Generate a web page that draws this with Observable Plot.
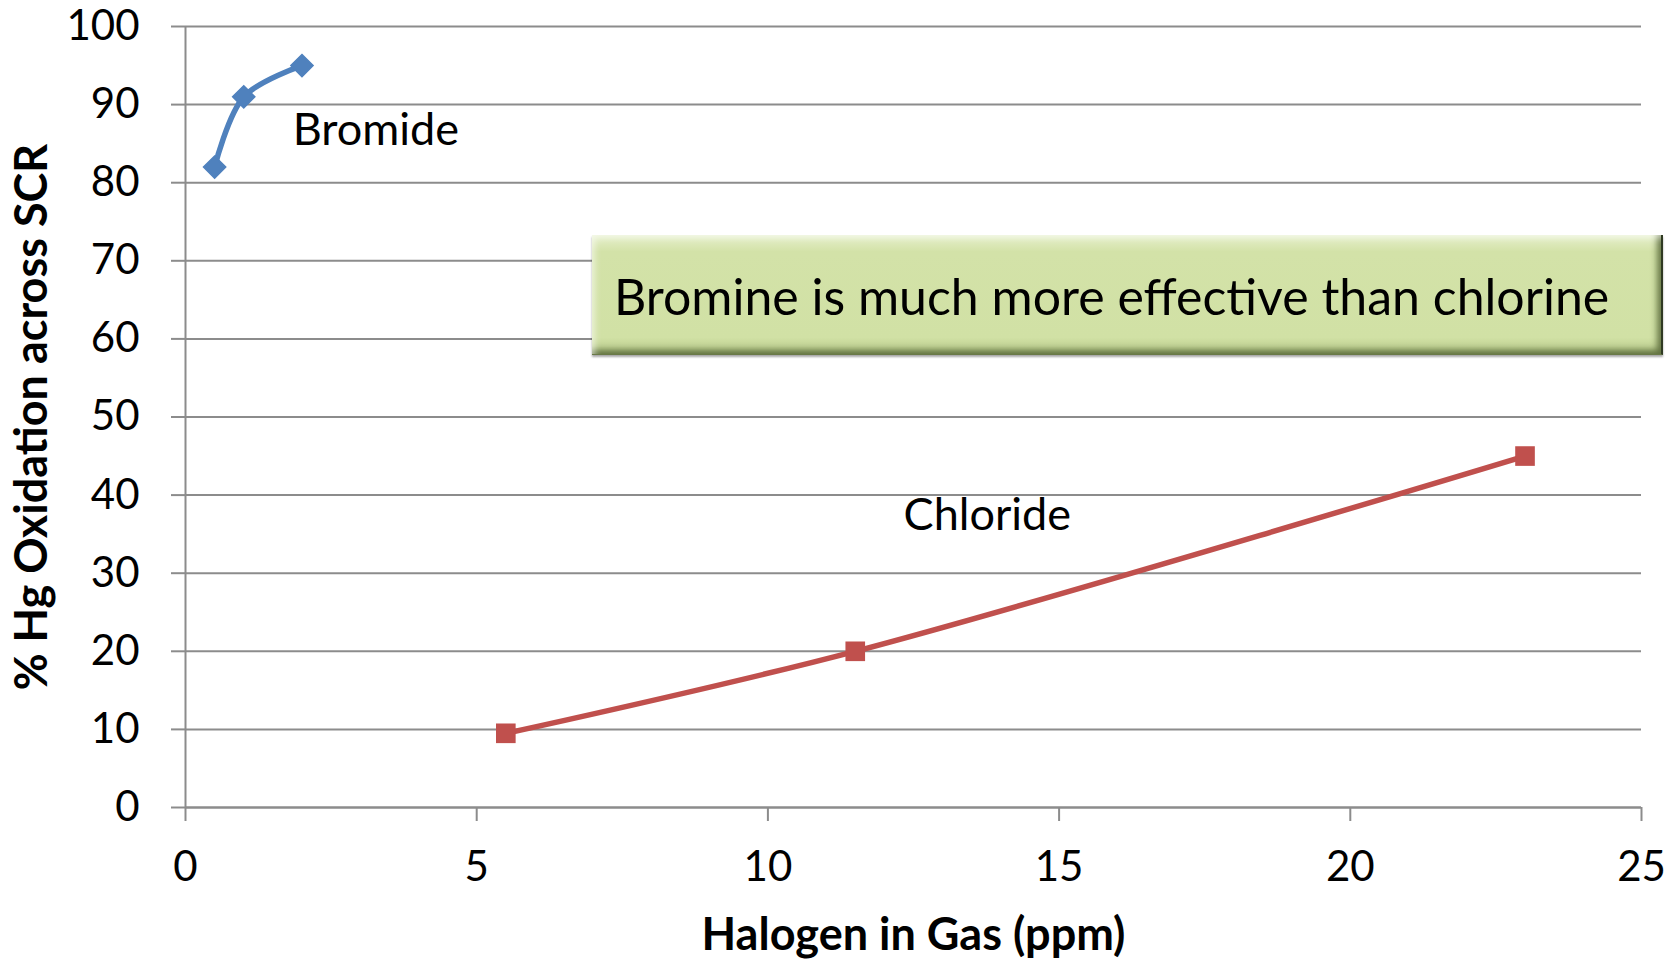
<!DOCTYPE html>
<html>
<head>
<meta charset="utf-8">
<script src="https://cdn.jsdelivr.net/npm/d3@7"></script>
<script src="https://cdn.jsdelivr.net/npm/@observablehq/plot@0.6"></script>
<style>
  html, body { margin: 0; padding: 0; background: #fff; }
  #wrap { position: relative; width: 1676px; height: 960px; overflow: hidden; }
  #note {
    position: absolute; left: 592px; top: 235px; width: 1071px; height: 120px;
    box-sizing: border-box;
    background: linear-gradient(to bottom, #e6f0cc 0%, #d3e2a8 14%, #d1e1a5 86%, #b7c98a 100%);
    box-shadow: inset 6px 6px 6px -3px rgba(255,255,255,0.55), inset -7px -7px 6px -3px rgba(70,85,40,0.75), 0 2px 2px rgba(0,0,0,0.35);
    border-right: 2px solid #2f3a22; border-bottom: 1px solid #6a7a48;
    font-family: Lato, sans-serif; font-size: 50px; color: #000;
    display: flex; align-items: center; padding-left: 22px; padding-top: 2px;
  }
</style>
</head>
<body>
<div id="wrap">
  <div id="chart"></div>
  <div id="note">Bromine is much more effective than chlorine</div>
</div>
<script>
const bromideX = [0.5, 1, 2];
const bromideY = [82, 91, 95];
const chlorideX = [5.5, 11.5, 23];
const chlorideY = [9.5, 20, 45];
const xTicks = [0, 5, 10, 15, 20, 25];
const yTicks = [0, 10, 20, 30, 40, 50, 60, 70, 80, 90, 100];
const seriesLabels = [
  {name: "Bromide", x: 1.84, y: 86.7},
  {name: "Chloride", x: 12.33, y: 37.4}
];
const xTitle = "Halogen in Gas (ppm)";
const yTitle = "% Hg Oxidation across SCR";

const bromide = bromideX.map((x, i) => ({x, y: bromideY[i]}));
const chloride = chlorideX.map((x, i) => ({x, y: chlorideY[i]}));

const blue = "#4F81BD", red = "#C0504D", grid = "#8c8c8c";

const chart = Plot.plot({
  width: 1676,
  height: 960,
  marginLeft: 185,
  marginRight: 35,
  marginTop: 26,
  marginBottom: 153,
  style: {fontFamily: "Lato, sans-serif", fontSize: "42px", color: "#000", background: "#fff", overflow: "visible"},
  x: {domain: [0, 25], ticks: xTicks, axis: null},
  y: {domain: [0, 100], ticks: yTicks, axis: null},
  marks: [
    Plot.gridY(yTicks, {stroke: grid, strokeOpacity: 1, strokeWidth: 2}),
    Plot.axisY(yTicks, {stroke: grid, strokeWidth: 2, tickSize: 14, tickPadding: 32, label: null, fontSize: 42, fill: "#000"}),
    Plot.axisX(xTicks, {stroke: grid, strokeWidth: 2, tickSize: 14, tickPadding: 30, label: null, fontSize: 42, fill: "#000"}),
    Plot.ruleX([0], {stroke: grid, strokeWidth: 2}),
    Plot.ruleY([0], {stroke: grid, strokeWidth: 2}),
    Plot.line(bromide, {x: "x", y: "y", stroke: blue, strokeWidth: 5.5, curve: "catmull-rom"}),
    Plot.dot(bromide, {x: "x", y: "y", symbol: "diamond2", fill: blue, stroke: blue, r: 10}),
    Plot.line(chloride, {x: "x", y: "y", stroke: red, strokeWidth: 5.5, curve: "catmull-rom"}),
    Plot.dot(chloride, {x: "x", y: "y", symbol: "square2", fill: red, r: 12.5}),
    Plot.text(seriesLabels, {x: "x", y: "y", text: "name", textAnchor: "start", lineAnchor: "middle", fontSize: 45, fill: "#000"}),
    Plot.text([xTitle], {frameAnchor: "bottom", dy: 128, textAnchor: "middle", lineAnchor: "middle", fontWeight: "bold", fontSize: 45, fill: "#000"}),
    Plot.text([yTitle], {frameAnchor: "left", dx: -153, rotate: -90, textAnchor: "middle", lineAnchor: "middle", fontWeight: "bold", fontSize: 45, fill: "#000"})
  ]
});
document.getElementById("chart").appendChild(chart);
</script>
</body>
</html>
